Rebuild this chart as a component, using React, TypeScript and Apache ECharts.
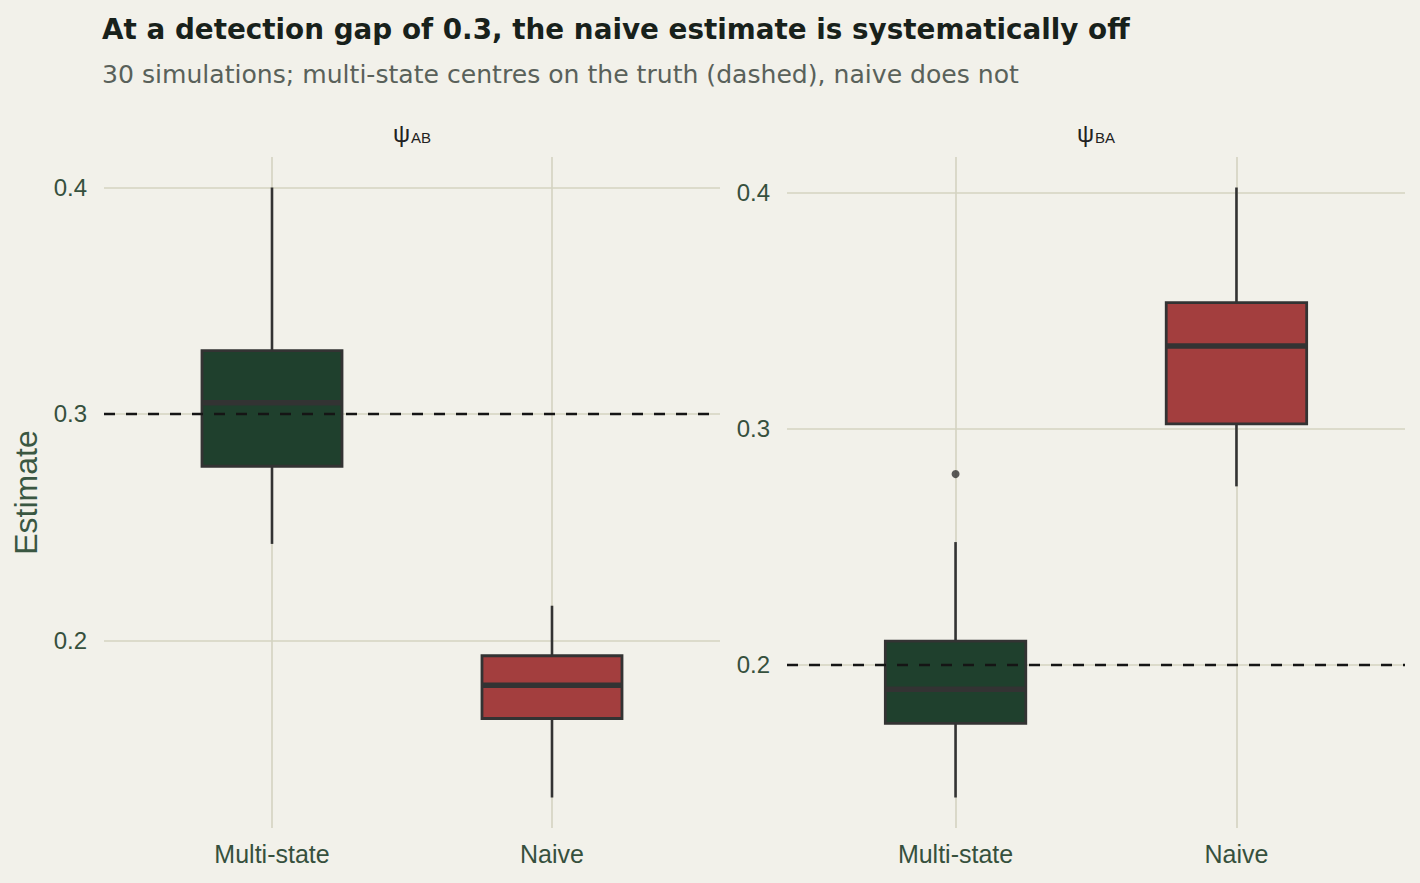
import React, { useEffect, useRef } from "react";
import * as echarts from "echarts";

const categories = ["Multi-state", "Naive"];
const panelSubscripts = ["AB", "BA"];
// box stats: [lower whisker, Q1, median, Q3, upper whisker]
const psiABMulti = [0.2426, 0.2769, 0.3049, 0.328, 0.4];
const psiABNaive = [0.1306, 0.1655, 0.1802, 0.1932, 0.2153];
const psiBAMulti = [0.1437, 0.1751, 0.1896, 0.2099, 0.2519];
const psiBANaive = [0.2755, 0.302, 0.335, 0.3533, 0.4021];
// outliers: [category index (1-based), value]
const psiABOutliers: number[][] = [];
const psiBAOutliers: number[][] = [[1, 0.2807]];
const truthValues = [0.3, 0.2];
const yTickValues = [0.2, 0.3, 0.4];

const titleText = "At a detection gap of 0.3, the naive estimate is systematically off";
const subtitleText = "30 simulations; multi-state centres on the truth (dashed), naive does not";
const yTitle = "Estimate";

const FILLS = ["#1F402D", "#A33E3E"];
const BG = "#F2F1EA";
const GRIDC = "#D4D3C1";
const INK = "#333333";
const FONT = "Liberation Sans, Arial, Helvetica, sans-serif";
const WIDE_FONT = "DejaVu Sans, Liberation Sans, sans-serif";

const panels = [
  { boxes: [psiABMulti, psiABNaive], outliers: psiABOutliers, truth: truthValues[0] },
  { boxes: [psiBAMulti, psiBANaive], outliers: psiBAOutliers, truth: truthValues[1] },
];

function rangeOf(p: { boxes: number[][]; outliers: number[][] }) {
  const vals: number[] = [];
  p.boxes.forEach((b) => vals.push(...b));
  p.outliers.forEach((o) => vals.push(o[1]));
  const lo = Math.min(...vals);
  const hi = Math.max(...vals);
  const pad = (hi - lo) * 0.05;
  return [lo - pad, hi + pad];
}

const gridsPos = [
  { left: 104, top: 157, width: 616, height: 671 },
  { left: 787, top: 157, width: 618, height: 671 },
];

export default function App() {
  const ref = useRef<HTMLDivElement>(null);
  useEffect(() => {
    if (!ref.current) return;
    const chart = echarts.init(ref.current, null, { renderer: "svg" });

    const renderBox = (params: any, api: any) => {
      const x = api.value(0);
      const lo = api.coord([x, api.value(1)]);
      const q1 = api.coord([x, api.value(2)]);
      const med = api.coord([x, api.value(3)]);
      const q3 = api.coord([x, api.value(4)]);
      const up = api.coord([x, api.value(5)]);
      const ci = api.value(6);
      const w = api.size([0.5, 0])[0];
      const cx = lo[0];
      return {
        type: "group",
        children: [
          { type: "line", shape: { x1: cx, y1: q3[1], x2: cx, y2: up[1] }, style: { stroke: INK, lineWidth: 2.6 } },
          { type: "line", shape: { x1: cx, y1: q1[1], x2: cx, y2: lo[1] }, style: { stroke: INK, lineWidth: 2.6 } },
          {
            type: "rect",
            shape: { x: cx - w / 2, y: q3[1], width: w, height: q1[1] - q3[1] },
            style: { fill: FILLS[ci], stroke: INK, lineWidth: 2.8 },
          },
          { type: "line", shape: { x1: cx - w / 2, y1: med[1], x2: cx + w / 2, y2: med[1] }, style: { stroke: INK, lineWidth: 5.5 } },
        ],
      };
    };

    const grid: any[] = [];
    const xAxis: any[] = [];
    const yAxis: any[] = [];
    const series: any[] = [];
    const graphic: any[] = [];

    panels.forEach((p, i) => {
      const [ymin, ymax] = rangeOf(p);
      grid.push({ ...gridsPos[i], containLabel: false });
      xAxis.push({
        type: "value",
        gridIndex: i,
        min: 0.4,
        max: 2.6,
        axisLine: { show: false },
        axisTick: { show: false, customValues: [1, 2] },
        splitLine: { show: true, lineStyle: { color: GRIDC, width: 1.6 } },
        axisLabel: {
          customValues: [1, 2],
          formatter: (v: number) => categories[Math.round(v) - 1] || "",
          color: "#36503D",
          fontSize: 25,
          fontFamily: FONT,
          margin: 13,
        },
      });
      yAxis.push({
        type: "value",
        gridIndex: i,
        min: ymin,
        max: ymax,
        axisLine: { show: false },
        axisTick: { show: false, customValues: yTickValues },
        splitLine: { show: true, lineStyle: { color: GRIDC, width: 1.6 } },
        axisLabel: {
          customValues: yTickValues,
          formatter: (v: number) => v.toFixed(1),
          color: "#36503D",
          fontSize: 24,
          fontFamily: FONT,
          margin: 17,
        },
        ...(i === 0
          ? {
              name: yTitle,
              nameLocation: "middle",
              nameGap: 62,
              nameTextStyle: { color: "#3A5742", fontSize: 32, fontFamily: FONT },
            }
          : {}),
      });
      series.push({
        type: "custom",
        xAxisIndex: i,
        yAxisIndex: i,
        z: 2,
        renderItem: renderBox,
        encode: { x: 0, y: [1, 2, 3, 4, 5] },
        data: p.boxes.map((b, k) => [k + 1, ...b, k]),
        markLine: {
          silent: true,
          symbol: "none",
          label: { show: false },
          lineStyle: { color: "#151515", width: 2.3, type: [11, 11] },
          data: [{ yAxis: p.truth }],
        },
      });
      series.push({
        type: "scatter",
        xAxisIndex: i,
        yAxisIndex: i,
        z: 3,
        symbolSize: 8,
        itemStyle: { color: INK },
        data: p.outliers,
      });
      const cx = gridsPos[i].left + gridsPos[i].width / 2;
      graphic.push({
        type: "text",
        x: cx,
        y: 133,
        style: {
          text: `{a|ψ}{b|${panelSubscripts[i]}}`,
          align: "center",
          verticalAlign: "middle",
          rich: {
            a: { fontSize: 24, fontFamily: FONT, fill: "#222222" },
            b: { fontSize: 15, fontFamily: FONT, fill: "#222222", verticalAlign: "bottom", padding: [7, 0, 0, 1] },
          },
        },
      });
    });

    graphic.push(
      {
        type: "text",
        x: 102,
        y: 29,
        style: { text: titleText, fontSize: 27.8, fontWeight: "bold", fontFamily: WIDE_FONT, fill: "#18211B", verticalAlign: "middle" },
      },
      {
        type: "text",
        x: 102,
        y: 74,
        style: { text: subtitleText, fontSize: 25.1, fontFamily: WIDE_FONT, fill: "#59615A", verticalAlign: "middle" },
      }
    );

    chart.setOption({
      animation: false,
      backgroundColor: BG,
      grid,
      xAxis,
      yAxis,
      series,
      graphic,
    });
    return () => chart.dispose();
  }, []);
  return <div ref={ref} style={{ width: 1420, height: 883, position: "absolute", left: 0, top: 0 }} />;
}
